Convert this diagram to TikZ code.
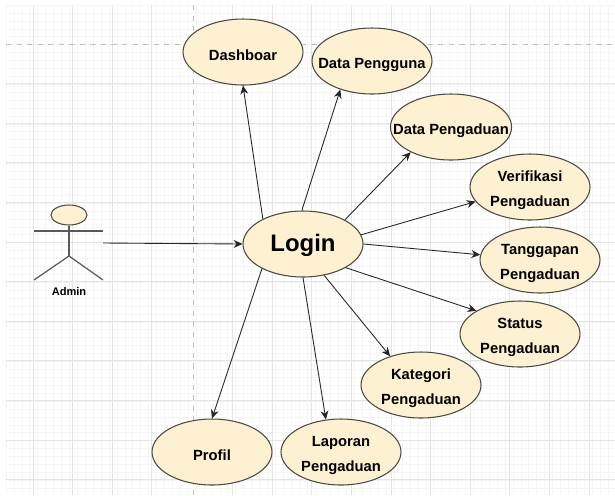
\documentclass[tikz,border=0pt]{standalone}
\usepackage{fontspec}
\setmainfont{Liberation Sans}
\usetikzlibrary{
    shapes.geometric,
    arrows.meta
}
\definecolor{usecasefill}{HTML}{FDF1D2}
\definecolor{usecaseline}{HTML}{4A4A42}
\tikzset{
    usecase/.style={draw=usecaseline, ellipse, fill=usecasefill, line width=0.6pt, minimum width=2.4cm, minimum height=1.32cm, inner xsep=-0.3cm, inner ysep=-0.1cm, align=center, font=\fontsize{8.4}{14.2}\selectfont\bfseries, execute at begin node={\rule{0pt}{9.8pt}}},
    twoline/.style={execute at begin node={\rule{0pt}{24.4pt}}},
    flow/.style={-{Stealth[length=5pt,width=4.5pt]}, line width=0.5pt, draw=black!85},
    stick/.style={draw=black!65, line width=0.7pt}
}

\begin{document}
\begin{tikzpicture}[x=0.02cm, y=-0.02cm]
    \useasboundingbox (0,0) rectangle (615,495);
    \fill[white] (0,0) rectangle (615,495);

    % grid
    \foreach \gx in {0,...,77} \draw[black!4, line width=0.3pt] ({6+7.92*\gx},5) -- ({6+7.92*\gx},495);
    \foreach \gy in {0,...,62} \draw[black!4, line width=0.3pt] (6,{5+7.92*\gy}) -- (615,{5+7.92*\gy});
    \foreach \gx in {33,72.6,112.2,151.8,232.6,272.2,311.8,351.4,391,430.6,470.2,509.8,549.4,589} \draw[black!10, line width=0.4pt] (\gx,5) -- (\gx,495);
    \foreach \gy in {83.6,123.2,162.8,202.4,242,281.6,321.2,360.8,400.4,440,479.6} \draw[black!10, line width=0.4pt] (6,\gy) -- (615,\gy);
    \draw[black!25, dashed, line width=0.5pt] (193,5) -- (193,495);
    \draw[black!25, dashed, line width=0.5pt] (6,44) -- (615,44);

    % use cases
    \node[usecase] (login) at (303,244) {\rule{0pt}{11.5pt}\fontsize{13.6}{16}\selectfont Login};
    \node[usecase] (dashboard) at (243,52) {Dashboar};
    \node[usecase] (pengguna) at (372,61) {Data Pengguna};
    \node[usecase] (pengaduan) at (451,127) {Data Pengaduan};
    \node[usecase, twoline] (verifikasi) at (530,187) {Verifikasi\\Pengaduan};
    \node[usecase, twoline] (tanggapan) at (540,260) {Tanggapan\\Pengaduan};
    \node[usecase, twoline] (status) at (520,334) {Status\\Pengaduan};
    \node[usecase, twoline] (kategori) at (421,385) {Kategori\\Pengaduan};
    \node[usecase, twoline] (laporan) at (341,452) {Laporan\\Pengaduan};
    \node[usecase] (profil) at (212,452) {Profil};

    % actor
    \node[draw=usecaseline, ellipse, fill=usecasefill, line width=0.6pt, minimum width=0.72cm, minimum height=0.4cm, inner sep=0pt] (head) at (69,215) {};
    \coordinate (armL) at (34,231);
    \coordinate (armR) at (103,231);
    \coordinate (hip) at (69,256);
    \coordinate (footL) at (34,280);
    \coordinate (footR) at (103,280);
    \coordinate (hand) at (103,243);
    \node[font=\fontsize{6.3}{7}\selectfont\bfseries] (admin) at (69,292) {Admin};
    \draw[stick] (armL) -- (armR);
    \draw[stick] (head) -- (hip);
    \draw[stick] (footL) -- (hip) -- (footR);

    \draw[flow] (hand) -- (login.west);
    \draw[flow] (login.148) -- (dashboard.south);
    \draw[flow] (login.92) -- (pengguna.-138);
    \draw[flow] (login.30) -- (pengaduan.-148);
    \draw[flow] (login.9) -- (verifikasi.-165);
    \draw[flow] (login.0) -- (tanggapan.175);
    \draw[flow] (login.-29) -- (status.152);
    \draw[flow] (login.-56) -- (kategori.137);
    \draw[flow] (login.-90) -- (laporan.115);
    \draw[flow] (login.-149) -- (profil.north);
\end{tikzpicture}
\end{document}
